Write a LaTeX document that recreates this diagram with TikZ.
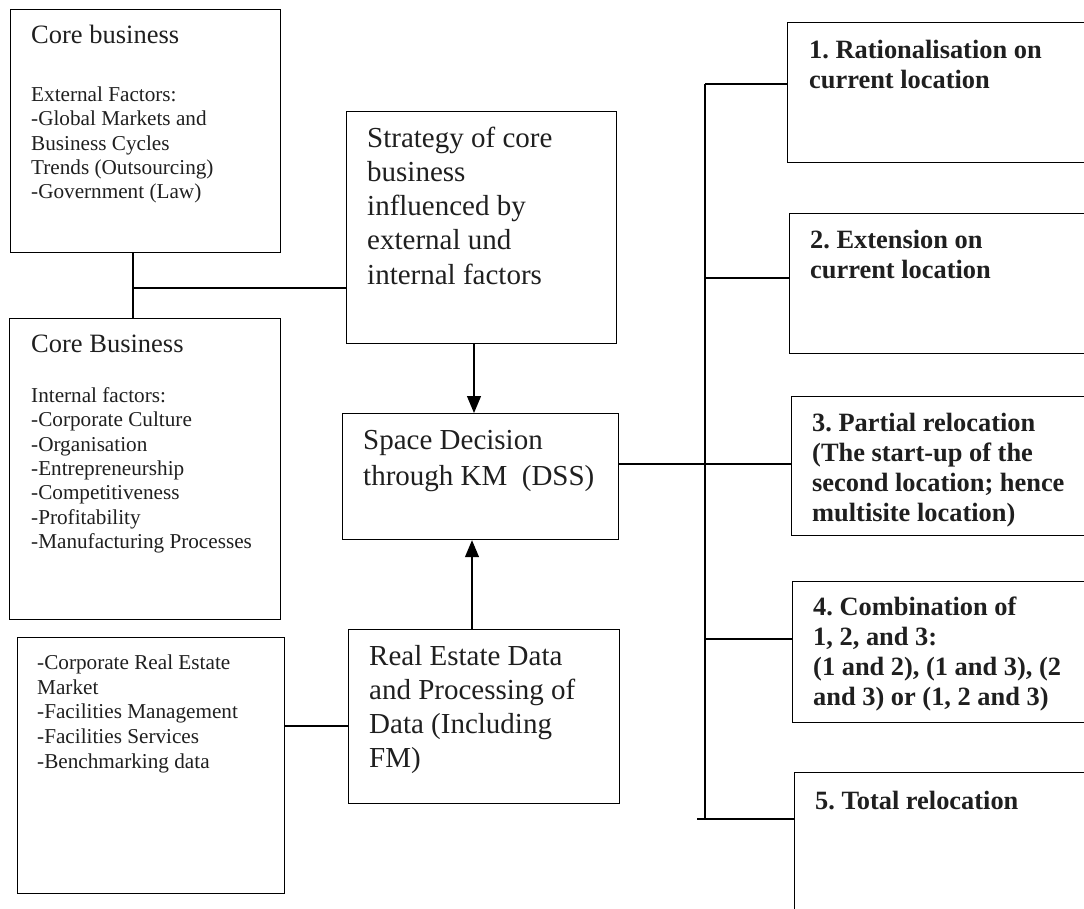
\documentclass[tikz,border=0pt]{standalone}
\usepackage{fontspec}
\setmainfont{Liberation Serif}
\usetikzlibrary{arrows.meta}
\frenchspacing
\begin{document}
\begin{tikzpicture}[x=1pt,y=-1pt,
 box/.style={draw, line width=1.2pt, inner sep=0pt, anchor=north west},
 txt/.style={anchor=north west, inner sep=0pt, align=left, text=black!88},
 ttl/.style={txt, font=\fontsize{26.5}{30}\selectfont},
 body/.style={txt, font=\fontsize{21.2}{24.4}\selectfont},
 bodyc/.style={txt, font=\fontsize{21.2}{24.8}\selectfont},
 mid/.style={txt, font=\fontsize{29}{34.2}\selectfont},
 opt/.style={txt, font=\bfseries\fontsize{26.4}{30.2}\selectfont},
 conn/.style={line width=1.2pt},
 arr/.style={conn, -{Triangle[length=17pt,width=14pt]}}
]
\useasboundingbox (0,0) rectangle (1084,908);
% boxes
\node[box, minimum width=270pt, minimum height=243pt] (A) at (10,9) {};
\node[box, minimum width=271pt, minimum height=301pt] (B) at (9,318) {};
\node[box, minimum width=267pt, minimum height=256pt] (C) at (17,637) {};
\node[box, minimum width=270pt, minimum height=232pt] (St) at (346,111) {};
\node[box, minimum width=276pt, minimum height=126pt] (Sp) at (342,413) {};
\node[box, minimum width=271pt, minimum height=174pt] (R) at (348,629) {};
\node[box, minimum width=310pt, minimum height=140pt] (O1) at (787,22) {};
\node[box, minimum width=310pt, minimum height=140pt] (O2) at (789,213) {};
\node[box, minimum width=310pt, minimum height=139pt] (O3) at (791,396) {};
\node[box, minimum width=310pt, minimum height=141pt] (O4) at (792,581) {};
\node[box, minimum width=310pt, minimum height=160pt] (O5) at (794,772) {};
% texts
\node[ttl] (tA) at (31,18) {\rule{0pt}{25pt}Core business};
\node[body] (bA) at (31,81) {\rule{0pt}{20pt}External Factors:\\-Global Markets and\\Business Cycles\\Trends (Outsourcing)\\-Government (Law)};
\node[ttl] (tB) at (31,327) {\rule{0pt}{25pt}Core Business};
\node[body] (bB) at (31,382) {\rule{0pt}{20pt}Internal factors:\\-Corporate Culture\\-Organisation\\-Entrepreneurship\\-Competitiveness\\-Profitability\\-Manufacturing Processes};
\node[bodyc] (bC) at (37,649) {\rule{0pt}{20pt}-Corporate Real Estate\\Market\\-Facilities Management\\-Facilities Services\\-Benchmarking data};
\node[mid] (tSt) at (367,119) {\rule{0pt}{28pt}Strategy of core\\business\\influenced by\\external und\\internal factors};
\node[mid, font=\fontsize{29}{36}\selectfont] (tSp) at (363,421) {\rule{0pt}{28pt}Space Decision\\through KM\ \ (DSS)};
\node[mid] (tR) at (369,637) {\rule{0pt}{28pt}Real Estate Data\\and Processing of\\Data (Including\\FM)};
\node[opt] (t1) at (809,33) {\rule{0pt}{25pt}1. Rationalisation on\\current location};
\node[opt] (t2) at (810,223) {\rule{0pt}{25pt}2. Extension on\\current location};
\node[opt] (t3) at (812,406) {\rule{0pt}{25pt}3. Partial relocation\\(The start-up of the\\second location; hence\\multisite location)};
\node[opt] (t4) at (813,590) {\rule{0pt}{25pt}4. Combination of\\1, 2, and 3:\\(1 and 2), (1 and 3), (2\\and 3) or (1, 2 and 3)};
\node[opt] (t5) at (815,784) {\rule{0pt}{25pt}5. Total relocation};
% connectors left
\coordinate (j1) at (133,288);
\draw[conn] (A.south -| j1) -- (B.north -| j1);
\draw[conn] (j1) -- (j1 -| St.west);
\coordinate (a1) at (474,380);
\draw[arr] (a1 |- St.south) -- (a1 |- Sp.north);
\coordinate (a2) at (472,580);
\draw[arr] (a2 |- R.north) -- (a2 |- Sp.south);
\coordinate (c1) at (300,726);
\draw[conn] (c1 -| C.east) -- (c1 -| R.west);
% bus
\coordinate (bt) at (705,84);
\coordinate (b2) at (705,278);
\coordinate (b3) at (705,464);
\coordinate (b4) at (705,639);
\coordinate (b5) at (697,819);
\draw[conn] (bt) -- (bt |- b5);
\draw[conn] (bt) -- (bt -| O1.west);
\draw[conn] (b2) -- (b2 -| O2.west);
\draw[conn] (b3 -| Sp.east) -- (b3 -| O3.west);
\draw[conn] (b4) -- (b4 -| O4.west);
\draw[conn] (b5) -- (b5 -| O5.west);
\end{tikzpicture}
\end{document}
